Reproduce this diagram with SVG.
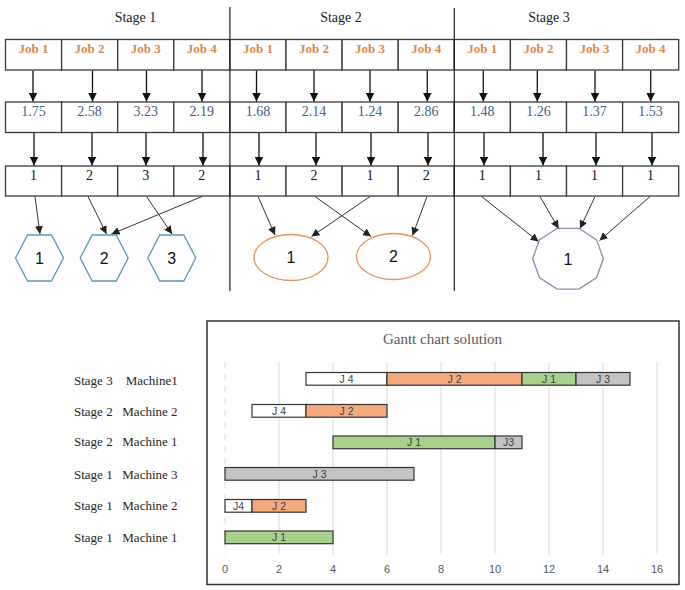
<svg xmlns="http://www.w3.org/2000/svg" width="685" height="590" viewBox="0 0 685 590">
<defs>
<style>
.cell{fill:#fff;stroke:#3a3a3a;stroke-width:1.3}
.job{font-family:"Liberation Serif",serif;font-size:13px;font-weight:bold;fill:#DB8A4C;text-anchor:middle}
.num{font-family:"Liberation Serif",serif;font-size:14px;fill:#44607F;text-anchor:middle}
.mch{font-family:"Liberation Serif",serif;font-size:14px;fill:#111;text-anchor:middle}
.stage{font-family:"Liberation Serif",serif;font-size:14px;fill:#222;text-anchor:middle}
.div{stroke:#222;stroke-width:1.2}
.a1{stroke:#111;stroke-width:1.3;fill:none;marker-end:url(#ah)}
.a2{stroke:#333;stroke-width:1;fill:none;marker-end:url(#ah2)}
.shp{font-family:"Liberation Sans",Arial,sans-serif;font-size:16px;fill:#111;text-anchor:middle}
.hex{fill:#fff;stroke:#5699B6;stroke-width:1.3}
.ell{fill:#fff;stroke:#E9925A;stroke-width:1.3}
.dec{fill:#fff;stroke:#9A84B0;stroke-width:1.3}
.grid{stroke:#D9D9D9;stroke-width:1}
.tick{font-family:"Liberation Sans",Arial,sans-serif;font-size:11px;fill:#595959;text-anchor:middle}
.bar{stroke:#333;stroke-width:1.2}
.bl{font-family:"Liberation Sans",Arial,sans-serif;font-size:10.5px;fill:#404040;text-anchor:middle}
.lab{font-family:"Liberation Serif",serif;font-size:13px;fill:#262626}
.w{fill:#fff}.o{fill:#F4AA7C}.g{fill:#A9D18E}.s{fill:#C3C3C3}
</style>
<marker id="ah" viewBox="0 0 10 10" refX="10" refY="5" markerWidth="9" markerHeight="9" markerUnits="userSpaceOnUse" orient="auto"><path d="M0,0 L10,5 L0,10 z" fill="#111"/></marker>
<marker id="ah2" viewBox="0 0 10 10" refX="10" refY="5" markerWidth="8" markerHeight="8" markerUnits="userSpaceOnUse" orient="auto"><path d="M0,0 L10,5 L0,10 z" fill="#222"/></marker>
</defs>
<rect width="685" height="590" fill="#fff"/>

<!-- stage headers -->
<g id="stage-labels">
<text class="stage" x="135.5" y="22">Stage 1</text>
<text class="stage" x="341" y="22">Stage 2</text>
<text class="stage" x="549" y="22">Stage 3</text>
</g>

<!-- row 1: jobs -->
<g id="row-jobs">
<g id="j1-1"><rect class="cell" x="5.5" y="39.5" width="56.1" height="30.5"/><text class="job" x="33.5" y="53">Job 1</text></g>
<g id="j1-2"><rect class="cell" x="61.6" y="39.5" width="56.1" height="30.5"/><text class="job" x="89.6" y="53">Job 2</text></g>
<g id="j1-3"><rect class="cell" x="117.7" y="39.5" width="56.1" height="30.5"/><text class="job" x="145.7" y="53">Job 3</text></g>
<g id="j1-4"><rect class="cell" x="173.8" y="39.5" width="56.1" height="30.5"/><text class="job" x="201.8" y="53">Job 4</text></g>
<g id="j2-1"><rect class="cell" x="229.9" y="39.5" width="56.1" height="30.5"/><text class="job" x="257.9" y="53">Job 1</text></g>
<g id="j2-2"><rect class="cell" x="286" y="39.5" width="56.1" height="30.5"/><text class="job" x="314" y="53">Job 2</text></g>
<g id="j2-3"><rect class="cell" x="342.1" y="39.5" width="56.1" height="30.5"/><text class="job" x="370.1" y="53">Job 3</text></g>
<g id="j2-4"><rect class="cell" x="398.2" y="39.5" width="56.1" height="30.5"/><text class="job" x="426.2" y="53">Job 4</text></g>
<g id="j3-1"><rect class="cell" x="454.3" y="39.5" width="56.1" height="30.5"/><text class="job" x="482.3" y="53">Job 1</text></g>
<g id="j3-2"><rect class="cell" x="510.4" y="39.5" width="56.1" height="30.5"/><text class="job" x="538.4" y="53">Job 2</text></g>
<g id="j3-3"><rect class="cell" x="566.5" y="39.5" width="56.1" height="30.5"/><text class="job" x="594.5" y="53">Job 3</text></g>
<g id="j3-4"><rect class="cell" x="622.6" y="39.5" width="56.1" height="30.5"/><text class="job" x="650.6" y="53">Job 4</text></g>
</g>

<!-- row 2: values -->
<g id="row-values">
<g id="v1-1"><rect class="cell" x="5.5" y="102" width="56.1" height="30.5"/><text class="num" x="33.5" y="116">1.75</text></g>
<g id="v1-2"><rect class="cell" x="61.6" y="102" width="56.1" height="30.5"/><text class="num" x="89.6" y="116">2.58</text></g>
<g id="v1-3"><rect class="cell" x="117.7" y="102" width="56.1" height="30.5"/><text class="num" x="145.7" y="116">3.23</text></g>
<g id="v1-4"><rect class="cell" x="173.8" y="102" width="56.1" height="30.5"/><text class="num" x="201.8" y="116">2.19</text></g>
<g id="v2-1"><rect class="cell" x="229.9" y="102" width="56.1" height="30.5"/><text class="num" x="257.9" y="116">1.68</text></g>
<g id="v2-2"><rect class="cell" x="286" y="102" width="56.1" height="30.5"/><text class="num" x="314" y="116">2.14</text></g>
<g id="v2-3"><rect class="cell" x="342.1" y="102" width="56.1" height="30.5"/><text class="num" x="370.1" y="116">1.24</text></g>
<g id="v2-4"><rect class="cell" x="398.2" y="102" width="56.1" height="30.5"/><text class="num" x="426.2" y="116">2.86</text></g>
<g id="v3-1"><rect class="cell" x="454.3" y="102" width="56.1" height="30.5"/><text class="num" x="482.3" y="116">1.48</text></g>
<g id="v3-2"><rect class="cell" x="510.4" y="102" width="56.1" height="30.5"/><text class="num" x="538.4" y="116">1.26</text></g>
<g id="v3-3"><rect class="cell" x="566.5" y="102" width="56.1" height="30.5"/><text class="num" x="594.5" y="116">1.37</text></g>
<g id="v3-4"><rect class="cell" x="622.6" y="102" width="56.1" height="30.5"/><text class="num" x="650.6" y="116">1.53</text></g>
</g>

<!-- row 3: machines -->
<g id="row-machines">
<g id="m1-1"><rect class="cell" x="5.5" y="166" width="56.1" height="30"/><text class="mch" x="33.5" y="180">1</text></g>
<g id="m1-2"><rect class="cell" x="61.6" y="166" width="56.1" height="30"/><text class="mch" x="89.6" y="180">2</text></g>
<g id="m1-3"><rect class="cell" x="117.7" y="166" width="56.1" height="30"/><text class="mch" x="145.7" y="180">3</text></g>
<g id="m1-4"><rect class="cell" x="173.8" y="166" width="56.1" height="30"/><text class="mch" x="201.8" y="180">2</text></g>
<g id="m2-1"><rect class="cell" x="229.9" y="166" width="56.1" height="30"/><text class="mch" x="257.9" y="180">1</text></g>
<g id="m2-2"><rect class="cell" x="286" y="166" width="56.1" height="30"/><text class="mch" x="314" y="180">2</text></g>
<g id="m2-3"><rect class="cell" x="342.1" y="166" width="56.1" height="30"/><text class="mch" x="370.1" y="180">1</text></g>
<g id="m2-4"><rect class="cell" x="398.2" y="166" width="56.1" height="30"/><text class="mch" x="426.2" y="180">2</text></g>
<g id="m3-1"><rect class="cell" x="454.3" y="166" width="56.1" height="30"/><text class="mch" x="482.3" y="180">1</text></g>
<g id="m3-2"><rect class="cell" x="510.4" y="166" width="56.1" height="30"/><text class="mch" x="538.4" y="180">1</text></g>
<g id="m3-3"><rect class="cell" x="566.5" y="166" width="56.1" height="30"/><text class="mch" x="594.5" y="180">1</text></g>
<g id="m3-4"><rect class="cell" x="622.6" y="166" width="56.1" height="30"/><text class="mch" x="650.6" y="180">1</text></g>
</g>

<!-- stage dividers -->
<g id="dividers">
<line class="div" x1="229.9" y1="7" x2="229.9" y2="291"/>
<line class="div" x1="454.3" y1="8" x2="454.3" y2="291"/>
</g>

<!-- machine shapes -->
<g id="s1-m1"><polygon class="hex" points="15.5,258 27.5,235 51.5,235 63.5,258 51.5,281 27.5,281"/><text class="shp" x="39.5" y="264">1</text></g>
<g id="s1-m2"><polygon class="hex" points="80.2,258 92.2,235 116.2,235 128.2,258 116.2,281 92.2,281"/><text class="shp" x="104.2" y="264">2</text></g>
<g id="s1-m3"><polygon class="hex" points="147.8,258 159.8,235 183.8,235 195.8,258 183.8,281 159.8,281"/><text class="shp" x="171.8" y="264">3</text></g>
<g id="s2-m1"><ellipse class="ell" cx="291" cy="257.5" rx="37" ry="23"/><text class="shp" x="291" y="263">1</text></g>
<g id="s2-m2"><ellipse class="ell" cx="393.5" cy="256.5" rx="37" ry="23"/><text class="shp" x="393.5" y="262">2</text></g>
<g id="s3-m1"><polygon class="dec" points="603.3,258.7 596.6,239.9 578.9,228.3 557.1,228.3 539.4,239.9 532.7,258.7 539.4,277.5 557.1,289.1 578.9,289.1 596.6,277.5"/><text class="shp" x="568" y="264.5">1</text></g>

<!-- connectors -->
<g id="connectors">
<line class="a1" x1="33" y1="70.5" x2="33" y2="101.5"/>
<line class="a1" x1="92.5" y1="70.5" x2="92.5" y2="101.5"/>
<line class="a1" x1="146.5" y1="70.5" x2="146.5" y2="101.5"/>
<line class="a1" x1="202" y1="70.5" x2="202" y2="101.5"/>
<line class="a1" x1="256.5" y1="70.5" x2="256.5" y2="101.5"/>
<line class="a1" x1="314" y1="70.5" x2="314" y2="101.5"/>
<line class="a1" x1="370" y1="70.5" x2="370" y2="101.5"/>
<line class="a1" x1="427.3" y1="70.5" x2="427.3" y2="101.5"/>
<line class="a1" x1="483.3" y1="70.5" x2="483.3" y2="101.5"/>
<line class="a1" x1="537.3" y1="70.5" x2="537.3" y2="101.5"/>
<line class="a1" x1="595" y1="70.5" x2="595" y2="101.5"/>
<line class="a1" x1="650.7" y1="70.5" x2="650.7" y2="101.5"/>

<line class="a1" x1="34" y1="133" x2="34" y2="165.5"/>
<line class="a1" x1="92" y1="133" x2="92" y2="165.5"/>
<line class="a1" x1="146" y1="133" x2="146" y2="165.5"/>
<line class="a1" x1="203" y1="133" x2="203" y2="165.5"/>
<line class="a1" x1="259" y1="133" x2="259" y2="165.5"/>
<line class="a1" x1="316" y1="133" x2="316" y2="165.5"/>
<line class="a1" x1="371" y1="133" x2="371" y2="165.5"/>
<line class="a1" x1="428" y1="133" x2="428" y2="165.5"/>
<line class="a1" x1="484" y1="133" x2="484" y2="165.5"/>
<line class="a1" x1="543" y1="133" x2="543" y2="165.5"/>
<line class="a1" x1="596" y1="133" x2="596" y2="165.5"/>
<line class="a1" x1="652" y1="133" x2="652" y2="165.5"/>

<line class="a2" x1="35" y1="196.5" x2="40" y2="234"/>
<line class="a2" x1="88" y1="196.5" x2="106.5" y2="234"/>
<line class="a2" x1="146.5" y1="196.5" x2="172" y2="234"/>
<line class="a2" x1="202" y1="196.5" x2="111.5" y2="234"/>
<line class="a2" x1="258" y1="196.5" x2="275" y2="235"/>
<line class="a2" x1="315" y1="196.5" x2="371" y2="236.5"/>
<line class="a2" x1="370" y1="196.5" x2="311.5" y2="236.5"/>
<line class="a2" x1="427" y1="196.5" x2="412.5" y2="235.5"/>
<line class="a2" x1="481.5" y1="196.5" x2="538.5" y2="241.5"/>
<line class="a2" x1="540" y1="196.5" x2="558.5" y2="228.5"/>
<line class="a2" x1="595" y1="196.5" x2="580" y2="228.5"/>
<line class="a2" x1="650" y1="196.5" x2="599.5" y2="240.5"/>
</g>

<!-- Gantt chart -->
<g id="gantt">
<rect x="207" y="321" width="472" height="263.5" fill="#fff" stroke="#333" stroke-width="1.5"/>
<text x="442.5" y="344" font-family="'Liberation Serif',serif" font-size="15" fill="#595959" text-anchor="middle">Gantt chart solution</text>
<g id="gridlines">
<line class="grid" x1="225" y1="362" x2="225" y2="555" stroke-dasharray="6,6"/>
<line class="grid" x1="279" y1="362" x2="279" y2="555"/>
<line class="grid" x1="333" y1="362" x2="333" y2="555"/>
<line class="grid" x1="387" y1="362" x2="387" y2="555"/>
<line class="grid" x1="441" y1="362" x2="441" y2="555"/>
<line class="grid" x1="495" y1="362" x2="495" y2="555"/>
<line class="grid" x1="549" y1="362" x2="549" y2="555"/>
<line class="grid" x1="603" y1="362" x2="603" y2="555"/>
<line class="grid" x1="657" y1="362" x2="657" y2="555"/>
</g>
<g id="ticks">
<text class="tick" x="225" y="573">0</text>
<text class="tick" x="279" y="573">2</text>
<text class="tick" x="333" y="573">4</text>
<text class="tick" x="387" y="573">6</text>
<text class="tick" x="441" y="573">8</text>
<text class="tick" x="495" y="573">10</text>
<text class="tick" x="549" y="573">12</text>
<text class="tick" x="603" y="573">14</text>
<text class="tick" x="657" y="573">16</text>
</g>
<g id="bars">
<rect class="bar w" x="306" y="372.5" width="81" height="12.7"/><text class="bl" x="346.5" y="382.5">J 4</text>
<rect class="bar o" x="387" y="372.5" width="135" height="12.7"/><text class="bl" x="454.5" y="382.5">J 2</text>
<rect class="bar g" x="522" y="372.5" width="54" height="12.7"/><text class="bl" x="549" y="382.5">J 1</text>
<rect class="bar s" x="576" y="372.5" width="54" height="12.7"/><text class="bl" x="603" y="382.5">J 3</text>

<rect class="bar w" x="252" y="404.5" width="54" height="12.7"/><text class="bl" x="279" y="414.5">J 4</text>
<rect class="bar o" x="306" y="404.5" width="81" height="12.7"/><text class="bl" x="346.5" y="414.5">J 2</text>

<rect class="bar g" x="333" y="436" width="162" height="12.7"/><text class="bl" x="414" y="446">J 1</text>
<rect class="bar s" x="495" y="436" width="27" height="12.7"/><text class="bl" x="508.5" y="446">J3</text>

<rect class="bar s" x="225" y="467.5" width="189" height="12.7"/><text class="bl" x="319.5" y="477.5">J 3</text>

<rect class="bar w" x="225" y="499.5" width="27" height="12.7"/><text class="bl" x="238.5" y="509.5">J4</text>
<rect class="bar o" x="252" y="499.5" width="54" height="12.7"/><text class="bl" x="279" y="509.5">J 2</text>

<rect class="bar g" x="225" y="531" width="108" height="12.7"/><text class="bl" x="279" y="541">J 1</text>
</g>
</g>

<g id="row-labels">
<text class="lab" y="384.5"><tspan x="74">Stage 3</tspan><tspan x="125.7">Machine1</tspan></text>
<text class="lab" y="416"><tspan x="74">Stage 2</tspan><tspan x="122.3">Machine 2</tspan></text>
<text class="lab" y="446"><tspan x="74">Stage 2</tspan><tspan x="122.3">Machine 1</tspan></text>
<text class="lab" y="478.5"><tspan x="74">Stage 1</tspan><tspan x="122.3">Machine 3</tspan></text>
<text class="lab" y="510"><tspan x="74">Stage 1</tspan><tspan x="122.3">Machine 2</tspan></text>
<text class="lab" y="541.5"><tspan x="74">Stage 1</tspan><tspan x="122.3">Machine 1</tspan></text>
</g>
</svg>
